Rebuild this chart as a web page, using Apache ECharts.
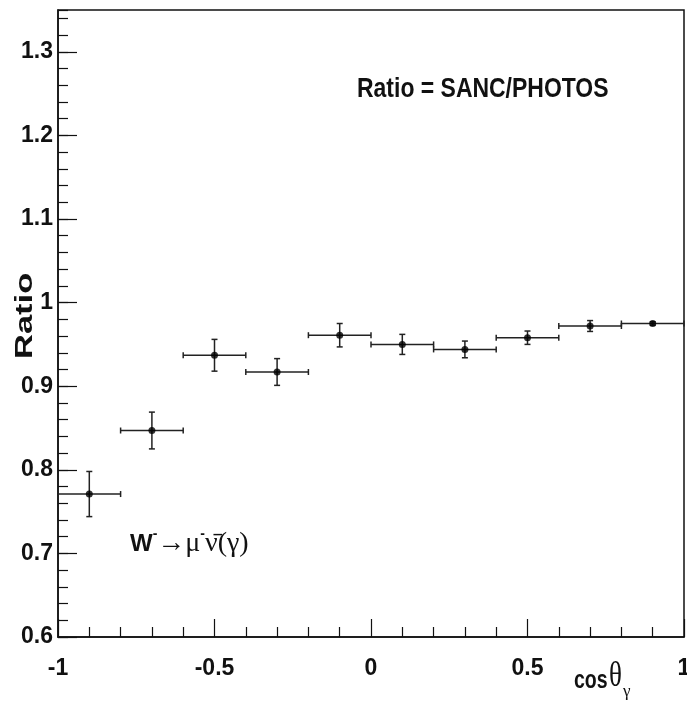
<!DOCTYPE html>
<html>
<head>
<meta charset="utf-8">
<script src="https://cdn.jsdelivr.net/npm/echarts@6/dist/echarts.min.js"></script>
<style>
  html, body { margin: 0; padding: 0; background: #fff; }
  #chart { width: 687px; height: 701px; }
</style>
</head>
<body>
<div id="chart"></div>
<script>
// bin centres, half widths, ratio SANC/PHOTOS and its error
const binCenters = [-0.9, -0.7, -0.5, -0.3, -0.1, 0.1, 0.3, 0.5, 0.7, 0.9];
const binHalfWidth = [0.1, 0.1, 0.1, 0.1, 0.1, 0.1, 0.1, 0.1, 0.1, 0.1];
const ratio = [0.771, 0.847, 0.937, 0.917, 0.961, 0.950, 0.944, 0.958, 0.972, 0.975];
const ratioErr = [0.027, 0.022, 0.019, 0.016, 0.014, 0.012, 0.010, 0.008, 0.0065, 0.002];

const sans = "'Liberation Sans', Arial, sans-serif";
const serif = "'Liberation Serif', 'DejaVu Serif', serif";
const ink = '#111';

const points = binCenters.map((x, i) => [x, ratio[i], binHalfWidth[i], ratioErr[i]]);

const chart = echarts.init(document.getElementById('chart'));

chart.setOption({
  animation: false,
  grid: {
    left: 58, top: 10, right: 3, bottom: 64, outerBoundsMode: 'none',
    show: true, borderColor: ink, borderWidth: 1.5, backgroundColor: 'transparent'
  },
  xAxis: {
    type: 'value', min: -1, max: 1, interval: 0.5,
    splitLine: { show: false },
    axisLine: { onZero: false, lineStyle: { color: ink, width: 1.5 } },
    axisTick: { inside: true, length: 18, lineStyle: { color: ink, width: 1.2 } },
    minorTick: { show: true, splitNumber: 5, length: 10, lineStyle: { color: ink, width: 1.2 } },
    axisLabel: {
      margin: 20, color: ink, fontSize: 23, fontWeight: 'bold', fontFamily: sans
    }
  },
  yAxis: [{
    type: 'value', min: 0.6, max: 1.35, interval: 0.1,
    splitLine: { show: false },
    axisLine: { onZero: false, lineStyle: { color: ink, width: 1.5 } },
    axisTick: { inside: true, length: 19, lineStyle: { color: ink, width: 1.2 } },
    axisLabel: {
      margin: 5, showMaxLabel: false, color: ink, fontSize: 23, fontWeight: 'bold',
      fontFamily: sans, formatter: v => String(Math.round(v * 10) / 10)
    }
  }, {
    // minor ticks every 0.02
    type: 'value', position: 'left', min: 0.6, max: 1.35, interval: 0.02,
    splitLine: { show: false },
    axisLine: { show: false, onZero: false },
    axisTick: { inside: true, length: 10, lineStyle: { color: ink, width: 1.2 } },
    axisLabel: { show: false }
  }],
  series: [{
    type: 'custom',
    data: points,
    renderItem: (params, api) => {
      const x = api.value(0), y = api.value(1), ex = api.value(2), ey = api.value(3);
      const l = api.coord([x - ex, y]), r = api.coord([x + ex, y]);
      const t = api.coord([x, y + ey]), b = api.coord([x, y - ey]);
      const cap = 3;
      const segs = [
        [l, r], [t, b],
        [[l[0], l[1] - cap], [l[0], l[1] + cap]],
        [[r[0], r[1] - cap], [r[0], r[1] + cap]],
        [[t[0] - cap, t[1]], [t[0] + cap, t[1]]],
        [[b[0] - cap, b[1]], [b[0] + cap, b[1]]]
      ];
      return {
        type: 'group',
        children: segs.map(s => ({
          type: 'line',
          shape: { x1: s[0][0], y1: s[0][1], x2: s[1][0], y2: s[1][1] },
          style: { stroke: '#222', lineWidth: 1.5 }
        }))
      };
    }
  }, {
    type: 'scatter',
    data: points.map(p => [p[0], p[1]]),
    symbolSize: 7,
    itemStyle: { color: '#000' }
  }],
  graphic: [{
    type: 'text', x: 357, y: 75, scaleX: 0.82,
    style: { text: 'Ratio = SANC/PHOTOS', fill: ink, font: "bold 28px " + sans }
  }, {
    type: 'text', x: 14, y: 359, rotation: Math.PI / 2, scaleX: 1.5,
    style: { text: 'Ratio', fill: ink, font: "bold 23px " + sans }
  }, {
    type: 'text', x: 130, y: 527,
    style: {
      text: '{b|W}{s|-}{g|→μ}{s|-}{g|ν\u0304(γ)}',
      fill: ink,
      rich: {
        b: { fontFamily: sans, fontWeight: 'bold', fontSize: 24, fill: ink, lineHeight: 34 },
        s: { fontFamily: sans, fontWeight: 'bold', fontSize: 14, fill: ink, verticalAlign: 'top', lineHeight: 34 },
        g: { fontFamily: serif, fontSize: 28, fill: ink, lineHeight: 34 }
      }
    }
  }, {
    // x axis title: cos θ_γ
    type: 'group',
    children: [{
      type: 'text', x: 574, y: 669, scaleX: 0.78,
      style: { text: 'cos', fill: ink, font: "bold 25px " + sans }
    }, {
      type: 'text', x: 609, y: 659, scaleX: 0.75,
      style: { text: 'θ', fill: ink, font: "36px " + serif }
    }, {
      type: 'text', x: 623, y: 683,
      style: { text: 'γ', fill: ink, font: "17px " + serif }
    }]
  }]
});
</script>
</body>
</html>
